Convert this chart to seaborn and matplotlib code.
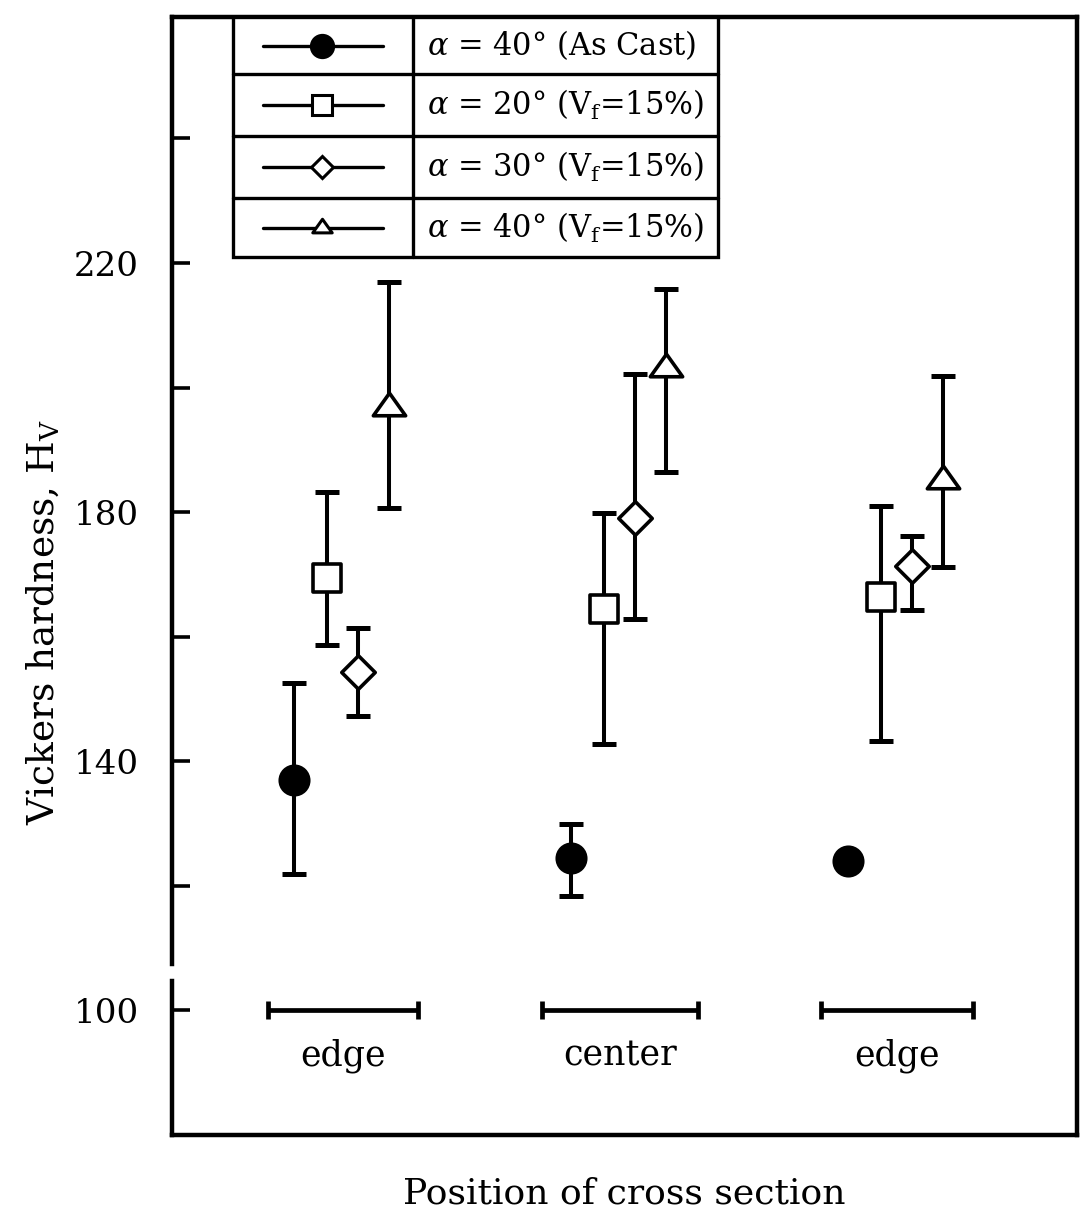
import numpy as np
import pandas as pd
import matplotlib
matplotlib.use("Agg")
import matplotlib.pyplot as plt
from matplotlib.patches import Rectangle
from matplotlib.path import Path
import seaborn as sns

# ---------------- data ----------------
positions = ["edge", "center", "edge"]
group_x = [0, 1, 2]
region_halfwidth = [0.271, 0.283, 0.273]

series_names = ["as_cast", "a20", "a30", "a40"]
series_labels = [
    r"$\alpha$ = 40° (As Cast)",
    r"$\alpha$ = 20° (V$_\mathregular{f}$=15%)",
    r"$\alpha$ = 30° (V$_\mathregular{f}$=15%)",
    r"$\alpha$ = 40° (V$_\mathregular{f}$=15%)",
]

as_cast_mean = [137.0, 124.5, 124.0]
as_cast_low = [121.9, 118.3, np.nan]
as_cast_high = [152.5, 130.0, np.nan]

a20_mean = [169.5, 164.5, 166.3]
a20_low = [158.7, 142.8, 143.2]
a20_high = [183.3, 179.8, 181.0]

a30_mean = [154.4, 179.0, 171.3]
a30_low = [147.2, 162.9, 164.3]
a30_high = [161.4, 202.2, 176.1]

a40_mean = [196.8, 203.0, 185.0]
a40_low = [180.7, 186.4, 171.2]
a40_high = [216.9, 215.8, 201.8]

series_offsets = [-0.175, -0.058, 0.055, 0.165]

means = [as_cast_mean, a20_mean, a30_mean, a40_mean]
lows = [as_cast_low, a20_low, a30_low, a40_low]
highs = [as_cast_high, a20_high, a30_high, a40_high]

rows = []
for si, name in enumerate(series_names):
    for gi in range(len(group_x)):
        rows.append(dict(series=name, x=group_x[gi] + series_offsets[si],
                         y=means[si][gi], low=lows[si][gi], high=highs[si][gi]))
df = pd.DataFrame(rows)

# ---------------- style ----------------
sns.set_theme(style="white")
plt.rcParams['font.family'] = ['DejaVu Serif']
plt.rcParams['mathtext.fontset'] = 'dejavuserif'
for k in ["text.color", "axes.labelcolor", "xtick.color", "ytick.color", "axes.edgecolor"]:
    plt.rcParams[k] = "black"

W, H = 1087, 1219
fig = plt.figure(figsize=(W / 100, H / 100), dpi=100)
ax = fig.add_axes([172 / W, 1 - 1135 / H, (1077 - 172) / W, (1135 - 17) / H])

tri = Path([(-1.0, -0.45), (1.0, -0.45), (0.0, 0.95), (-1.0, -0.45)], closed=True)
marker_styles = {
    "as_cast": dict(marker="o", s=420, color="black"),
    "a20": dict(marker="s", s=380, color="white"),
    "a30": dict(marker="D", s=290, color="white"),
    "a40": dict(marker=tri, s=540, color="white"),
}

for name in series_names:
    sub = df[df.series == name]
    eb = sub.dropna(subset=["low", "high"])
    ax.errorbar(eb.x, eb.y, yerr=[eb.y - eb.low, eb.high - eb.y], fmt="none",
                ecolor="black", elinewidth=2.9, capsize=8.5, capthick=3.6, zorder=2)
    st = marker_styles[name]
    sns.scatterplot(x=sub.x, y=sub.y, marker=st["marker"], s=st["s"],
                    color=st["color"], edgecolor="black", linewidth=2.6,
                    ax=ax, zorder=3, legend=False)

# position bars and labels
ax.errorbar(group_x, [100] * len(group_x), xerr=region_halfwidth, fmt="none",
            ecolor="black", elinewidth=3.4, capsize=6.5, capthick=3.4, zorder=2)
for gx, lab in zip(group_x, positions):
    ax.text(gx, 92.8, lab, ha="center", va="center", fontsize=25)

ax.set_xlim(-0.617, 2.650)
ax.set_ylim(80, 259.5)
ax.set_xticks([])
ax.set_yticks([100, 140, 180, 220])
ax.set_yticks([120, 160, 200, 240], minor=True)
ax.tick_params(axis="y", which="both", direction="in", length=13, width=2.6,
               left=True, pad=24, labelsize=24.5, colors="black")
ax.set_xlabel("Position of cross section", fontsize=26, labelpad=30, color="black")
ax.set_ylabel(r"Vickers hardness, H$_\mathregular{V}$", fontsize=27, color="black")
ax.yaxis.set_label_coords(-0.1215, 0.459)

for side in ["top", "right", "bottom"]:
    ax.spines[side].set_linewidth(3.2)
    ax.spines[side].set_color("black")
ax.spines["left"].set_visible(False)
yt = ax.get_yaxis_transform()
ax.plot([0, 0], [80, 104.8], transform=yt, color="black", lw=3.2, clip_on=False, zorder=6,
        solid_capstyle="projecting")
ax.plot([0, 0], [107.5, 259.5], transform=yt, color="black", lw=3.2, clip_on=False, zorder=6,
        solid_capstyle="projecting")

# table-like legend
lx0, lx1, lxm = 0.0674, 0.603, 0.266
ly0, ly1 = 0.785, 1.0
row_edges = [1.0, 0.949, 0.894, 0.838, 0.785]
ax.add_patch(Rectangle((lx0, ly0), lx1 - lx0, ly1 - ly0, transform=ax.transAxes,
                       facecolor="white", edgecolor="black", lw=2.4, zorder=5))
for re in row_edges[1:-1]:
    ax.plot([lx0, lx1], [re, re], transform=ax.transAxes, color="black", lw=2.4, zorder=6)
ax.plot([lxm, lxm], [ly0, ly1], transform=ax.transAxes, color="black", lw=2.4, zorder=6)

leg_marker = {"as_cast": ("o", 16), "a20": ("s", 14), "a30": ("D", 11.5), "a40": (tri, 14)}
for i, name in enumerate(series_names):
    yc = (row_edges[i] + row_edges[i + 1]) / 2
    ax.plot([0.1006, 0.233], [yc, yc], transform=ax.transAxes, color="black", lw=2.4, zorder=6)
    m, ms = leg_marker[name]
    ax.plot([0.166], [yc], transform=ax.transAxes, marker=m, markersize=ms,
            markerfacecolor=marker_styles[name]["color"], markeredgecolor="black",
            markeredgewidth=2.2, linestyle="none", zorder=7)
    ax.text(0.282, yc, series_labels[i], transform=ax.transAxes, ha="left", va="center",
            fontsize=22, zorder=7)

fig.savefig("out.png", dpi=100)
